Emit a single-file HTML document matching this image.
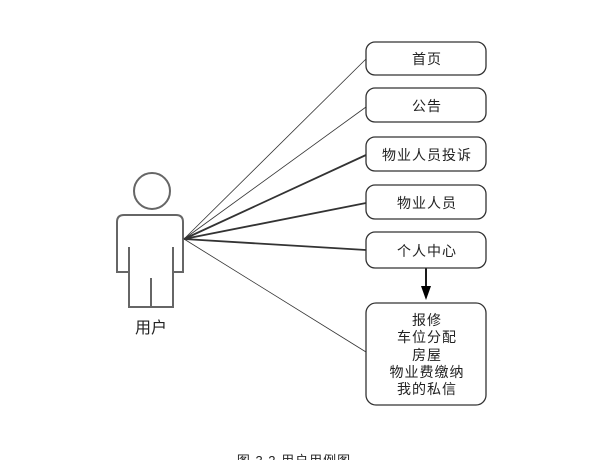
<!DOCTYPE html>
<html><head><meta charset="utf-8"><style>
html,body{margin:0;padding:0;background:#fff;}
svg{display:block;}
text{font-family:"Liberation Sans","Noto Sans CJK SC",sans-serif;fill:#222;}
</style></head><body>
<svg width="600" height="460" viewBox="0 0 600 460" xmlns="http://www.w3.org/2000/svg">
<g fill="none" stroke="#666" stroke-width="2">
<circle cx="152" cy="191" r="18" fill="#fff"/>
<path d="M129 272 L117 272 L117 222 Q117 215 124 215 L176 215 Q183 215 183 222 L183 272 L173 272 L173 307 L129 307 Z" fill="#fff"/>
<line x1="129" y1="247" x2="129" y2="272"/>
<line x1="173" y1="247" x2="173" y2="272"/>
<line x1="151" y1="278" x2="151" y2="307"/>
</g>
<text x="151" y="333" font-size="16" text-anchor="middle">用户</text>
<g stroke="#333">
<line x1="184" y1="239" x2="366" y2="59" stroke-width="0.8"/>
<line x1="184" y1="239" x2="366" y2="107" stroke-width="0.8"/>
<line x1="184" y1="239" x2="366" y2="155" stroke-width="1.8"/>
<line x1="184" y1="239" x2="366" y2="203" stroke-width="1.8"/>
<line x1="184" y1="239" x2="366" y2="250" stroke-width="1.8"/>
<line x1="184" y1="239" x2="366" y2="352" stroke-width="0.8"/>
<line x1="426" y1="268" x2="426" y2="288" stroke-width="1.8" stroke="#000"/>
</g>
<polygon points="421,286 431,286 426,300" fill="#000"/>
<g fill="#fff" stroke="#333" stroke-width="1.3">
<rect x="366" y="42" width="120" height="33" rx="9"/>
<rect x="366" y="88" width="120" height="34" rx="9"/>
<rect x="366" y="137" width="120" height="34" rx="9"/>
<rect x="366" y="185" width="120" height="34" rx="9"/>
<rect x="366" y="232" width="120" height="36" rx="9"/>
<rect x="366" y="303" width="120" height="102" rx="10"/>
</g>
<g font-size="14" text-anchor="middle" letter-spacing="1">
<text x="427" y="64">首页</text>
<text x="427" y="111">公告</text>
<text x="427" y="160">物业人员投诉</text>
<text x="427" y="208">物业人员</text>
<text x="427" y="256">个人中心</text>
<text x="427" y="325">报修</text>
<text x="427" y="342">车位分配</text>
<text x="427" y="360">房屋</text>
<text x="427" y="377">物业费缴纳</text>
<text x="427" y="394">我的私信</text>
</g>
<text x="294" y="465" font-size="13" text-anchor="middle" letter-spacing="1">图 3.2 用户用例图</text>
</svg>
</body></html>
